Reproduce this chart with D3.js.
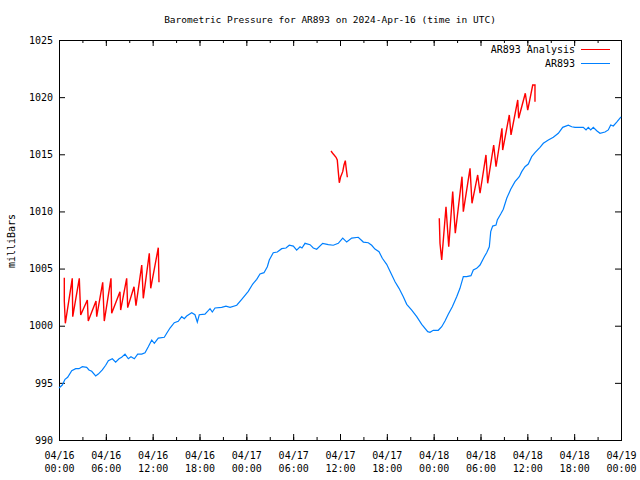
<!DOCTYPE html>
<html><head><meta charset="utf-8">
<script src="https://cdn.jsdelivr.net/npm/d3@7"></script>
<style>
body{margin:0;background:#fff}
svg{display:block}
text{font-family:"DejaVu Sans Mono","Liberation Mono",monospace;font-size:10px;fill:#000}
</style>
</head><body>
<svg id="chart" width="640" height="480"></svg>
<script>
// ---- data ----
const title = "Barometric Pressure for AR893 on 2024-Apr-16 (time in UTC)";
const yLabel = "milliBars";
const seriesNames = ["AR893 Analysis", "AR893"];
const startUTC = Date.UTC(2024, 3, 16, 0, 0, 0);
const endUTC = Date.UTC(2024, 3, 19, 0, 0, 0);
const yTickValues = [990, 995, 1000, 1005, 1010, 1015, 1020, 1025];

// AR893 observed: hours since 04/16 00:00 UTC, pressure (mb)
const obsHours = [0,0.42,0.77,1.11,1.63,2.14,2.56,2.99,3.55,3.84,4.19,4.70,5.03,5.55,5.98,6.32,6.83,7.26,7.69,8.03,8.46,8.88,9.22,9.65,10.08,10.6,11.02,11.44,11.88,12.21,12.72,13.49,13.8,14.22,14.77,15.28,15.72,16.05,16.36,17.0,17.42,17.72,17.97,18.7,19.35,19.64,19.99,20.84,21.39,21.91,22.77,23.41,24.25,24.82,25.33,25.75,26.26,26.69,26.94,27.45,27.97,28.53,29.08,29.5,30.02,30.45,30.88,31.13,31.52,32.16,32.58,33.01,33.78,34.5,35.14,35.78,36.35,36.86,37.5,38.34,38.99,39.63,40.06,40.48,41.0,41.42,41.98,42.53,43.05,43.56,44.11,44.55,45.19,45.83,46.47,47.24,47.53,47.95,48.59,49.03,49.45,49.87,50.39,50.95,51.37,51.8,52.23,52.78,53.08,53.51,53.94,54.49,54.79,55.13,55.31,55.56,55.99,56.15,56.59,56.92,57.36,57.87,58.42,58.97,59.28,59.7,60.12,60.56,60.98,61.62,62.05,62.69,63.33,63.97,64.53,65.25,65.69,66.11,67.17,67.52,67.81,68.12,68.45,68.89,69.31,69.95,70.37,70.68,71.01,71.45,71.87,72];
const obsPressure = [994.55,994.81,995.31,995.49,996.06,996.24,996.24,996.41,996.36,996.13,996.01,995.6,995.77,996.13,996.54,996.94,997.11,996.82,997.11,997.24,997.52,997.11,997.29,997.11,997.52,997.52,997.64,998.16,998.75,998.46,998.92,998.99,999.34,999.8,1000.26,1000.39,1000.79,1000.61,1000.85,1001.14,1000.96,1000.32,1000.96,1001.02,1001.49,1001.2,1001.55,1001.61,1001.72,1001.61,1001.79,1002.31,1003.01,1003.65,1004.06,1004.52,1004.64,1005.16,1005.75,1006.39,1006.45,1006.74,1006.8,1007.04,1006.97,1006.62,1006.91,1006.8,1007.21,1007.09,1006.8,1006.69,1007.21,1007.09,1007.04,1007.21,1007.67,1007.32,1007.67,1007.74,1007.32,1007.26,1007.04,1006.71,1006.48,1005.9,1005.37,1004.59,1003.85,1003.27,1002.54,1001.87,1001.37,1000.79,1000.12,999.48,999.42,999.6,999.6,999.91,1000.41,1001.0,1001.66,1002.54,1003.27,1004.29,1004.29,1004.38,1004.87,1005.02,1005.31,1006.04,1006.39,1006.91,1008.23,1008.72,1008.81,1009.25,1009.77,1010.19,1011.15,1011.94,1012.6,1013.04,1013.48,1013.91,1014.15,1014.79,1015.14,1015.61,1015.96,1016.25,1016.49,1016.84,1017.36,1017.54,1017.41,1017.36,1017.36,1017.13,1017.36,1017.13,1017.36,1017.06,1016.84,1016.95,1017.13,1017.56,1017.48,1017.82,1018.17,1018.26];

// AR893 Analysis: three separate segments (hours, pressure)
const anaHours1 = [0.68,0.68,0.81,1.70,1.76,2.60,2.78,3.63,3.75,4.74,4.83,5.60,5.80,6.66,6.75,7.81,7.90,8.67,8.80,9.61,9.86,10.6,10.8,11.57,11.75,12.72,12.81];
const anaPressure1 = [1004.2,1002.16,1000.21,1004.15,1000.79,1004.15,1000.94,1002.25,1000.41,1002.16,1000.79,1003.8,1000.41,1004.15,1001.09,1002.98,1001.37,1004.15,1001.58,1003.41,1001.75,1005.31,1002.4,1006.34,1003.27,1006.83,1003.8];
const anaHours2 = [34.85,35.14,35.49,35.65,35.78,35.91,36.09,36.35,36.51,36.68,36.77,36.94];
const anaPressure2 = [1015.29,1015.02,1014.74,1014.5,1013.48,1012.51,1013.04,1013.48,1014.06,1014.44,1013.91,1012.99];
const anaHours3 = [48.72,48.81,49.03,49.58,49.93,50.44,50.77,51.63,51.8,52.66,52.91,53.64,53.94,54.7,54.92,55.69,55.99,56.75,56.84,57.69,57.91,58.77,58.89,59.74,60.05,60.69,60.98,60.98];
const anaPressure3 = [1009.4,1007.21,1005.75,1010.41,1006.91,1011.73,1008.09,1013.04,1009.98,1013.77,1010.71,1013.19,1011.59,1014.94,1012.46,1015.81,1013.91,1017.27,1015.37,1018.44,1016.69,1019.75,1018.15,1020.34,1018.87,1021.06,1021.06,1019.6];

const colors = ["#ff0000", "#0080ff"];

// ---- chart ----
const W = 640, H = 480;
const m = {left: 59, right: 19, top: 40, bottom: 40};
const svg = d3.select("#chart");
const toDate = h => new Date(startUTC + h * 3600e3);

const x = d3.scaleUtc().domain([new Date(startUTC), new Date(endUTC)]).range([m.left, W - m.right]);
const y = d3.scaleLinear().domain([990, 1025]).range([H - m.bottom, m.top]);

const minorVals = d3.utcHour.every(3).range(new Date(startUTC), new Date(endUTC + 1));
const majorVals = d3.utcHour.every(6).range(new Date(startUTC), new Date(endUTC + 1));

svg.append("g").attr("transform", `translate(0,${H - m.bottom})`)
  .call(d3.axisBottom(x).tickValues(minorVals).tickSize(-3).tickFormat(""))
  .call(g => g.select(".domain").remove());
svg.append("g").attr("transform", `translate(0,${m.top})`)
  .call(d3.axisTop(x).tickValues(minorVals).tickSize(-3).tickFormat(""))
  .call(g => g.select(".domain").remove());

const fmtD = d3.utcFormat("%m/%d"), fmtT = d3.utcFormat("%H:%M");
const xb = svg.append("g").attr("transform", `translate(0,${H - m.bottom})`)
  .call(d3.axisBottom(x).tickValues(majorVals).tickSize(-6).tickPadding(10).tickFormat(""))
  .call(g => g.select(".domain").remove());
xb.selectAll(".tick").append("text")
  .attr("text-anchor", "middle").attr("fill", "#000")
  .each(function(d) {
    const t = d3.select(this);
    t.append("tspan").attr("x", 0).attr("y", 19).text(fmtD(d));
    t.append("tspan").attr("x", 0).attr("y", 32).text(fmtT(d));
  });
svg.append("g").attr("transform", `translate(0,${m.top})`)
  .call(d3.axisTop(x).tickValues(majorVals).tickSize(-6).tickFormat(""))
  .call(g => g.select(".domain").remove());

svg.append("g").attr("transform", `translate(${m.left},0)`)
  .call(d3.axisLeft(y).tickValues(yTickValues).tickSize(-6).tickPadding(6).tickFormat(d3.format("d")))
  .call(g => g.select(".domain").remove());
svg.append("g").attr("transform", `translate(${W - m.right},0)`)
  .call(d3.axisRight(y).tickValues(yTickValues).tickSize(-6).tickFormat(""))
  .call(g => g.select(".domain").remove());

svg.selectAll("g").attr("font-size", null).attr("font-family", null);

// border
svg.append("rect").attr("x", m.left + 0.5).attr("y", m.top + 0.5)
  .attr("width", W - m.left - m.right).attr("height", H - m.top - m.bottom)
  .attr("fill", "none").attr("stroke", "#000").attr("stroke-width", 1);

// lines
const line = d3.line().x(d => x(toDate(d[0]))).y(d => y(d[1]));
const zip = (a, b) => a.map((v, i) => [v, b[i]]);

svg.append("path").datum(zip(obsHours, obsPressure))
  .attr("d", line).attr("fill", "none").attr("stroke", colors[1]).attr("stroke-width", 1.2);

[[anaHours1, anaPressure1], [anaHours2, anaPressure2], [anaHours3, anaPressure3]].forEach(([h, p]) => {
  svg.append("path").datum(zip(h, p))
    .attr("d", line).attr("fill", "none").attr("stroke", colors[0]).attr("stroke-width", 1.4);
});

// title
svg.append("text").attr("x", 330).attr("y", 23).attr("text-anchor", "middle")
  .style("font-size", "9.5px").text(title);

// y label
svg.append("text").attr("transform", "translate(15,241) rotate(-90)")
  .attr("text-anchor", "middle").text(yLabel);

// legend
seriesNames.forEach((name, i) => {
  const ly = 49 + i * 14;
  svg.append("text").attr("x", 575).attr("y", ly + 4).attr("text-anchor", "end").text(name);
  svg.append("rect").attr("x", 581).attr("y", ly).attr("width", 29).attr("height", 1)
    .style("fill", colors[i]).style("stroke", "none");
});
</script>
</body></html>
